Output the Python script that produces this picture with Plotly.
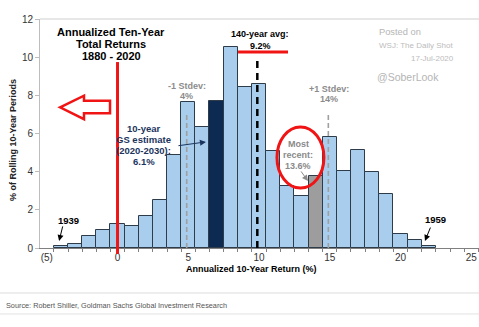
import plotly.graph_objects as go

# ---- data ----
bin_centers = list(range(-4, 23))
pct_periods = [0.08, 0.2, 0.61, 0.96, 1.28, 1.15, 1.68, 2.53, 4.88, 7.65, 6.33, 7.71,
               10.52, 8.46, 8.62, 5.1, 3.24, 2.7, 3.78, 5.83, 4.04, 5.14, 3.97, 2.83,
               0.75, 0.4, 0.09]
gs_estimate_bin = 7
most_recent_bin = 14
x_tick_vals = [-5, 0, 5, 10, 15, 20, 25]
x_tick_text = ["(5)", "0", "5", "10", "15", "20", "25"]
y_tick_vals = [0, 2, 4, 6, 8, 10, 12]

avg_line_x = 9.88
minus_sd_x = 4.89
plus_sd_x = 14.9

FONT = "Liberation Sans, Arial, sans-serif"
LIGHT = "#a9cdec"
NAVY = "#0d2b52"
GRAY = "#9d9d9d"
RED = "#f01414"

colors = []
for c in bin_centers:
    if c == gs_estimate_bin:
        colors.append(NAVY)
    elif c == most_recent_bin:
        colors.append(GRAY)
    else:
        colors.append(LIGHT)

fig = go.Figure()
fig.add_trace(go.Bar(
    x=bin_centers, y=pct_periods, width=1.0,
    marker=dict(color=colors, line=dict(color="#2e3c4a", width=1)),
    hoverinfo="skip",
))

shapes = []
# reference lines
shapes.append(dict(type="line", xref="x", yref="y", x0=avg_line_x, x1=avg_line_x, y0=0, y1=10.01,
                   line=dict(color="black", width=2.5, dash="7px,5px"), layer="above"))
for sx in (minus_sd_x, plus_sd_x):
    shapes.append(dict(type="line", xref="x", yref="y", x0=sx, x1=sx, y0=0, y1=7.02,
                       line=dict(color="#a0a0a0", width=1.6, dash="5px,3px"), layer="above"))
# red annotations (hand-drawn overlay)
shapes.append(dict(type="line", xref="x", yref="paper", x0=0, x1=0, y0=-0.026, y1=0.812,
                   line=dict(color=RED, width=3), layer="above"))
shapes.append(dict(type="line", xref="x", yref="y", x0=8.52, x1=12.05, y0=10.27, y1=10.27,
                   line=dict(color=RED, width=3), layer="above"))
shapes.append(dict(type="circle", xref="x", yref="y", x0=11.27, x1=14.59, y0=3.14, y1=6.34,
                   line=dict(color=RED, width=3), layer="above"))
arrow_path = ("M -4.06 7.37 L -2.37 7.98 L -2.37 7.72 L -0.53 7.72 L -0.53 7.06 "
              "L -2.37 7.06 L -2.37 6.75 Z")
shapes.append(dict(type="path", xref="x", yref="y", path=arrow_path,
                   line=dict(color=RED, width=2.5), fillcolor="rgba(0,0,0,0)", layer="above"))
# frame lines
shapes.append(dict(type="line", xref="paper", yref="paper", x0=0, x1=1, y0=1, y1=1,
                   line=dict(color="#cfcfcf", width=1)))
shapes.append(dict(type="line", xref="paper", yref="paper", x0=-0.1, x1=1, y0=-0.1965, y1=-0.1965,
                   line=dict(color="#dcdcdc", width=1)))
shapes.append(dict(type="line", xref="paper", yref="paper", x0=-0.1, x1=1, y0=-0.288, y1=-0.288,
                   line=dict(color="#e2e2e2", width=1)))

ann = []
def txt(x, y, s, size=9, color="black", bold=True, xanchor="center", xref="x", yref="y", **kw):
    ann.append(dict(x=x, y=y, xref=xref, yref=yref, text=(f"<b>{s}</b>" if bold else s),
                    showarrow=False, xanchor=xanchor, yanchor="middle",
                    font=dict(family=FONT, size=size, color=color), **kw))

def arr(x, y, ax, ay, color="black"):
    ann.append(dict(x=x, y=y, ax=ax, ay=ay, xref="x", yref="y", axref="x", ayref="y",
                    text="", showarrow=True, arrowhead=2, arrowsize=1.2, arrowwidth=1,
                    arrowcolor=color, standoff=0, startstandoff=0))

# title
txt(-0.46, (248 - 32) / 19.08, "Annualized Ten-Year", size=11)
txt(-0.46, (248 - 44) / 19.08, "Total Returns", size=11)
txt(-0.46, (248 - 56) / 19.08, "1880 - 2020", size=11)
# avg
txt(10.1, (248 - 34) / 19.08, "140-year avg:", size=9)
txt(10.1, (248 - 46) / 19.08, "9.2%", size=9)
# stdev
txt(4.91, (248 - 86) / 19.08, "-1 Stdev:", size=9, color="#8c8c8c")
txt(4.91, (248 - 96) / 19.08, "4%", size=9, color="#8c8c8c")
txt(14.95, (248 - 89) / 19.08, "+1 Stdev:", size=9, color="#8c8c8c")
txt(14.95, (248 - 99) / 19.08, "14%", size=9, color="#8c8c8c")
# GS estimate
for i, s in enumerate(["10-year", "GS estimate", "(2020-2030):", "6.1%"]):
    txt(1.87, (248 - (129 + 11 * i)) / 19.08, s, size=9.5, color="#1c355e")
arr(6.25, 5.56, 4.2, 5.35, color="#1c355e")
# most recent
for i, s in enumerate(["Most", "recent:", "13.6%"]):
    txt(12.76, (248 - (144 + 11 * i)) / 19.08, s, size=9, color="#8a8a8a")
arr(13.46, 3.51, 12.9, 4.09, color="#8a8a8a")
# years
txt(-3.5, 1.42, "1939", size=9.5)
arr(-4.13, 0.37, -3.85, 1.21)
txt(22.51, 1.47, "1959", size=9.5)
arr(21.73, 0.37, 22.16, 1.15)
# axis titles
txt(9.5, (248 - 269) / 229, "Annualized 10-Year Return (%)", size=9, yref="paper")
ann.append(dict(x=(13 - 40) / 439, y=(248 - 140) / 229, xref="paper", yref="paper",
                text="<b>% of Rolling 10-Year Periods</b>", textangle=-90, showarrow=False,
                xanchor="center", yanchor="middle", font=dict(family=FONT, size=9, color="#222")))
# watermark
txt((377 - 40) / 439, (248 - 32) / 229, "Posted on", size=9.3, color="#b5b5b5", bold=False,
    xanchor="left", xref="paper", yref="paper")
txt((377 - 40) / 439, (248 - 45.5) / 229, "WSJ: The Daily Shot", size=8, color="#bcbcbc", bold=False,
    xanchor="left", xref="paper", yref="paper")
txt((409 - 40) / 439, (248 - 59) / 229, "17-Jul-2020", size=8, color="#bcbcbc", bold=False,
    xanchor="left", xref="paper", yref="paper")
txt((375 - 40) / 439, (248 - 77) / 229, "@SoberLook", size=10.5, color="#b5b5b5", bold=False,
    xanchor="left", xref="paper", yref="paper")
# source
ann.append(dict(x=(4 - 40) / 439, y=(248 - 305) / 229, xref="paper", yref="paper",
                text="Source: Robert Shiller, Goldman Sachs Global Investment Research",
                showarrow=False, xanchor="left", yanchor="middle",
                font=dict(family=FONT, size=7.3, color="#555")))

fig.update_layout(
    width=479, height=327,
    margin=dict(l=40, r=0, t=19, b=79),
    paper_bgcolor="white", plot_bgcolor="white",
    showlegend=False, bargap=0,
    shapes=shapes, annotations=ann,
    font=dict(family=FONT, size=10, color="#333"),
    xaxis=dict(range=[-5.48, 25.55], tickvals=x_tick_vals, ticktext=x_tick_text,
               showgrid=False, zeroline=False, showline=True, linecolor="#808080", linewidth=1,
               ticks="", tickfont=dict(size=10, color="#333"),
               minor=dict(tick0=0.5, dtick=1, ticks="outside", ticklen=3, tickcolor="#808080")),
    yaxis=dict(range=[0, 12], tickvals=y_tick_vals, showgrid=False, zeroline=False,
               showline=True, linecolor="#bdbdbd", linewidth=1, ticks="outside", ticklen=4,
               tickcolor="#bdbdbd", tickfont=dict(size=10, color="#333")),
)

fig.write_html("out.html")
